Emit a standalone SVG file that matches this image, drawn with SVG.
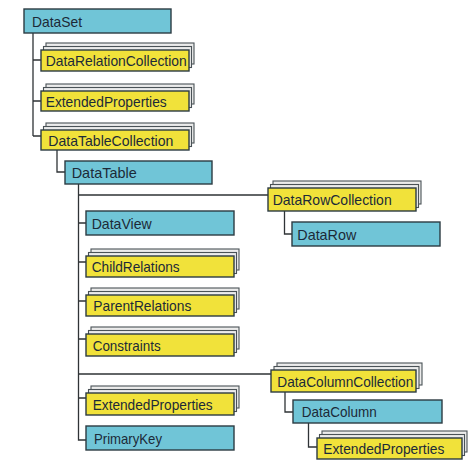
<svg xmlns="http://www.w3.org/2000/svg" width="468" height="463" viewBox="0 0 468 463">
<style>
.b{fill:#70c5d7;stroke:#2c3b42;stroke-width:1.4}
.y{fill:#f1e23a;stroke:#2c3b42;stroke-width:1.4}
.bk{fill:#ececec;stroke:#4a5257;stroke-width:1.1}
.t{font-family:"Liberation Sans",Arial,sans-serif;font-size:14.5px;fill:#1c2a38}
.c{fill:none;stroke:#2f3336;stroke-width:1.3}
</style>
<rect width="468" height="463" fill="#ffffff"/>
<g id="connectors">
<path class="c" d="M33,33V136M33,60H41M33,101H41M33,136H41"/>
<path class="c" d="M57,150V172H65"/>
<path class="c" d="M78.5,184V440H86M78.5,195H268M78.5,223H86M78.5,262H86M78.5,301H86M78.5,339H86M78.5,374H271M78.5,398H86"/>
<path class="c" d="M284.5,211V234H292"/>
<path class="c" d="M285,392V412H293"/>
<path class="c" d="M308.5,423V447H317"/>
</g>
<g id="DataSet"><rect class="b" x="24" y="9" width="147" height="24"/><text class="t" x="32" y="26.5" textLength="50" lengthAdjust="spacingAndGlyphs">DataSet</text></g>
<g id="DataRelationCollection"><rect class="bk" x="46" y="43" width="148" height="21"/><rect class="bk" x="43.5" y="46.5" width="148" height="21"/><rect class="y" x="41" y="50" width="148" height="21"/><text class="t" x="45.7" y="66" textLength="141" lengthAdjust="spacingAndGlyphs">DataRelationCollection</text></g>
<g id="ExtendedProperties1"><rect class="bk" x="46" y="84" width="148" height="20"/><rect class="bk" x="43.5" y="87.5" width="148" height="20"/><rect class="y" x="41" y="91" width="148" height="20"/><text class="t" x="45.7" y="106.5" textLength="121" lengthAdjust="spacingAndGlyphs">ExtendedProperties</text></g>
<g id="DataTableCollection"><rect class="bk" x="46" y="123" width="148" height="20"/><rect class="bk" x="43.5" y="126.5" width="148" height="20"/><rect class="y" x="41" y="130" width="148" height="20"/><text class="t" x="48.3" y="145.5" textLength="125" lengthAdjust="spacingAndGlyphs">DataTableCollection</text></g>
<g id="DataTable"><rect class="b" x="65" y="161" width="147" height="23"/><text class="t" x="71.7" y="178" textLength="65" lengthAdjust="spacingAndGlyphs">DataTable</text></g>
<g id="DataView"><rect class="b" x="86" y="211" width="148" height="24"/><text class="t" x="91.7" y="228.5" textLength="60" lengthAdjust="spacingAndGlyphs">DataView</text></g>
<g id="ChildRelations"><rect class="bk" x="91" y="249" width="148" height="21"/><rect class="bk" x="88.5" y="252.5" width="148" height="21"/><rect class="y" x="86" y="256" width="148" height="21"/><text class="t" x="91.7" y="272" textLength="88" lengthAdjust="spacingAndGlyphs">ChildRelations</text></g>
<g id="ParentRelations"><rect class="bk" x="91" y="288" width="148" height="21"/><rect class="bk" x="88.5" y="291.5" width="148" height="21"/><rect class="y" x="86" y="295" width="148" height="21"/><text class="t" x="93.3" y="311" textLength="98" lengthAdjust="spacingAndGlyphs">ParentRelations</text></g>
<g id="Constraints"><rect class="bk" x="91" y="327" width="148" height="22"/><rect class="bk" x="88.5" y="330.5" width="148" height="22"/><rect class="y" x="86" y="334" width="148" height="22"/><text class="t" x="92.7" y="350.5" textLength="68" lengthAdjust="spacingAndGlyphs">Constraints</text></g>
<g id="ExtendedProperties2"><rect class="bk" x="91" y="386" width="148" height="22"/><rect class="bk" x="88.5" y="389.5" width="148" height="22"/><rect class="y" x="86" y="393" width="148" height="22"/><text class="t" x="92.7" y="409.5" textLength="120" lengthAdjust="spacingAndGlyphs">ExtendedProperties</text></g>
<g id="PrimaryKey"><rect class="b" x="86" y="426" width="148" height="24"/><text class="t" x="94" y="443.5" textLength="68" lengthAdjust="spacingAndGlyphs">PrimaryKey</text></g>
<g id="DataRowCollection"><rect class="bk" x="273" y="181" width="148" height="23"/><rect class="bk" x="270.5" y="184.5" width="148" height="23"/><rect class="y" x="268" y="188" width="148" height="23"/><text class="t" x="272.7" y="205" textLength="119" lengthAdjust="spacingAndGlyphs">DataRowCollection</text></g>
<g id="DataRow"><rect class="b" x="292" y="222" width="148" height="24"/><text class="t" x="297.3" y="239.5" textLength="59" lengthAdjust="spacingAndGlyphs">DataRow</text></g>
<g id="DataColumnCollection"><rect class="bk" x="277" y="363" width="145" height="22"/><rect class="bk" x="274" y="366.5" width="145" height="22"/><rect class="y" x="271" y="370" width="145" height="22"/><text class="t" x="277.3" y="386.5" textLength="136" lengthAdjust="spacingAndGlyphs">DataColumnCollection</text></g>
<g id="DataColumn"><rect class="b" x="293" y="400" width="149" height="23"/><text class="t" x="301.7" y="417" textLength="75" lengthAdjust="spacingAndGlyphs">DataColumn</text></g>
<g id="ExtendedProperties3"><rect class="bk" x="322" y="431" width="145" height="21"/><rect class="bk" x="319.5" y="434.5" width="145" height="21"/><rect class="y" x="317" y="438" width="145" height="21"/><text class="t" x="323.3" y="454" textLength="121" lengthAdjust="spacingAndGlyphs">ExtendedProperties</text></g>
</svg>
